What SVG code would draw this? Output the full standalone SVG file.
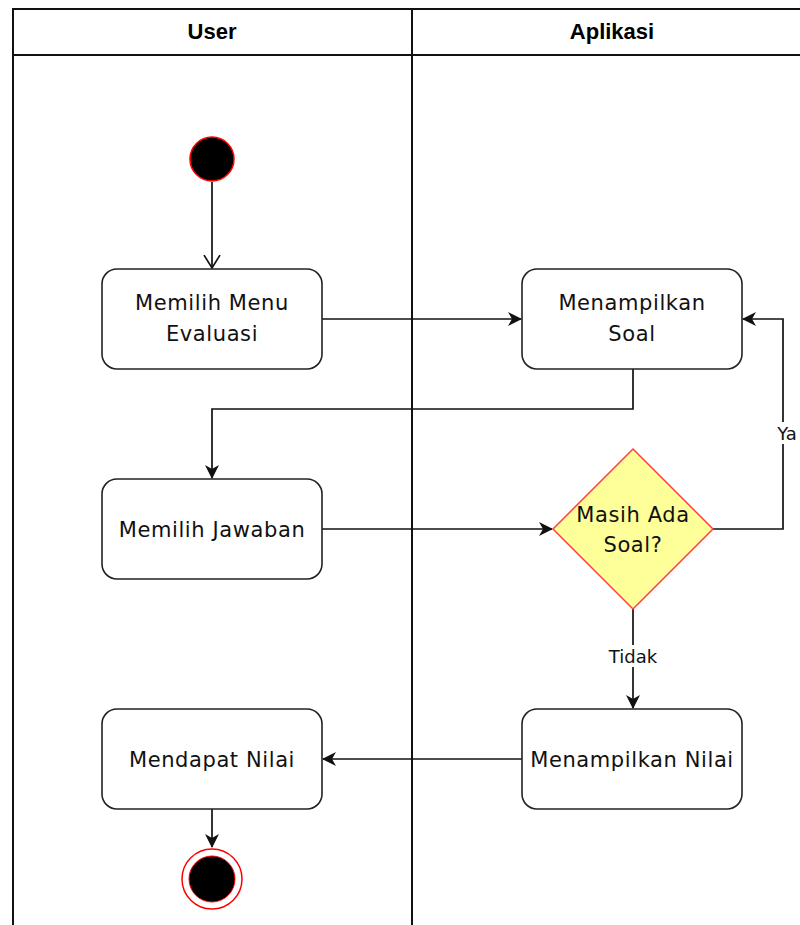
<svg xmlns="http://www.w3.org/2000/svg" width="800" height="925" viewBox="0 0 800 925">
  <style>
    .lane { fill: none; stroke: #111; stroke-width: 2; }
    .head { font-family: "Liberation Sans", Arial, sans-serif; font-weight: bold; font-size: 22px; fill: #000; text-anchor: middle; }
    .act { fill: #fff; stroke: #222; stroke-width: 1.6; }
    .lbl { font-family: "DejaVu Sans", "Liberation Sans", sans-serif; font-size: 21px; letter-spacing: 0.6px; fill: #111; text-anchor: middle; }
    .small { font-family: "DejaVu Sans", "Liberation Sans", sans-serif; font-size: 18px; fill: #111; text-anchor: middle; }
    .edge { fill: none; stroke: #111; stroke-width: 1.7; }
  </style>
  <defs>
    <marker id="arrow" viewBox="0 0 14 14" refX="13" refY="7" markerWidth="14" markerHeight="14" markerUnits="userSpaceOnUse" orient="auto">
      <path d="M0,0 L14,7 L0,14 L4,7 Z" fill="#111"/>
    </marker>
    <marker id="open" viewBox="0 0 14 18" refX="13" refY="9" markerWidth="14" markerHeight="18" markerUnits="userSpaceOnUse" orient="auto">
      <path d="M0,1 L13,9 L0,17" fill="none" stroke="#111" stroke-width="1.6"/>
    </marker>
  </defs>

  <rect width="800" height="925" fill="#fff"/>

  <!-- swimlanes -->
  <g id="lanes">
    <path class="lane" d="M13,925 V9 H801 M13,55 H801 M412,9 V925"/>
    <text class="head" x="212" y="39">User</text>
    <text class="head" x="612" y="39">Aplikasi</text>
  </g>

  <!-- connectors -->
  <g id="connectors">
    <path class="edge" d="M212,182 V268" marker-end="url(#open)"/>
    <path class="edge" d="M322,319 H521" marker-end="url(#arrow)"/>
    <path class="edge" d="M633,369 V409 H212 V478" marker-end="url(#arrow)"/>
    <path class="edge" d="M322,529 H552" marker-end="url(#arrow)"/>
    <path class="edge" d="M713,529 H783 V319 H743" marker-end="url(#arrow)"/>
    <rect x="772" y="422" width="28" height="22" fill="#fff"/>
    <text class="small" x="787" y="440">Ya</text>
    <path class="edge" d="M633,609 V708" marker-end="url(#arrow)"/>
    <rect x="606" y="645" width="54" height="22" fill="#fff"/>
    <text class="small" x="633" y="663">Tidak</text>
    <path class="edge" d="M522,759 H323" marker-end="url(#arrow)"/>
    <path class="edge" d="M212,809 V847" marker-end="url(#arrow)"/>
  </g>

  <g id="start">
    <circle cx="212" cy="159" r="22" fill="#000" stroke="#ff0000" stroke-width="1.5"/>
  </g>

  <g id="memilih-menu">
    <rect class="act" x="102" y="269" width="220" height="100" rx="15"/>
    <text class="lbl" x="212" y="310">Memilih Menu</text>
    <text class="lbl" x="212" y="341">Evaluasi</text>
  </g>

  <g id="menampilkan-soal">
    <rect class="act" x="522" y="269" width="220" height="100" rx="15"/>
    <text class="lbl" x="632" y="310">Menampilkan</text>
    <text class="lbl" x="632" y="341">Soal</text>
  </g>

  <g id="memilih-jawaban">
    <rect class="act" x="102" y="479" width="220" height="100" rx="15"/>
    <text class="lbl" x="212" y="537">Memilih Jawaban</text>
  </g>

  <g id="masih-ada-soal">
    <path d="M633,449 L713,529 L633,609 L553,529 Z" fill="#ffff99" stroke="#ff4040" stroke-width="1.5"/>
    <text class="lbl" x="633" y="522">Masih Ada</text>
    <text class="lbl" x="633" y="552">Soal?</text>
  </g>

  <g id="menampilkan-nilai">
    <rect class="act" x="522" y="709" width="220" height="100" rx="15"/>
    <text class="lbl" x="632" y="767">Menampilkan Nilai</text>
  </g>

  <g id="mendapat-nilai">
    <rect class="act" x="102" y="709" width="220" height="100" rx="15"/>
    <text class="lbl" x="212" y="767">Mendapat Nilai</text>
  </g>

  <g id="end">
    <circle cx="212" cy="879" r="30" fill="#fff" stroke="#ff0000" stroke-width="1.5"/>
    <circle cx="212" cy="879" r="23" fill="#000" stroke="#ff0000" stroke-width="1"/>
  </g>
</svg>
